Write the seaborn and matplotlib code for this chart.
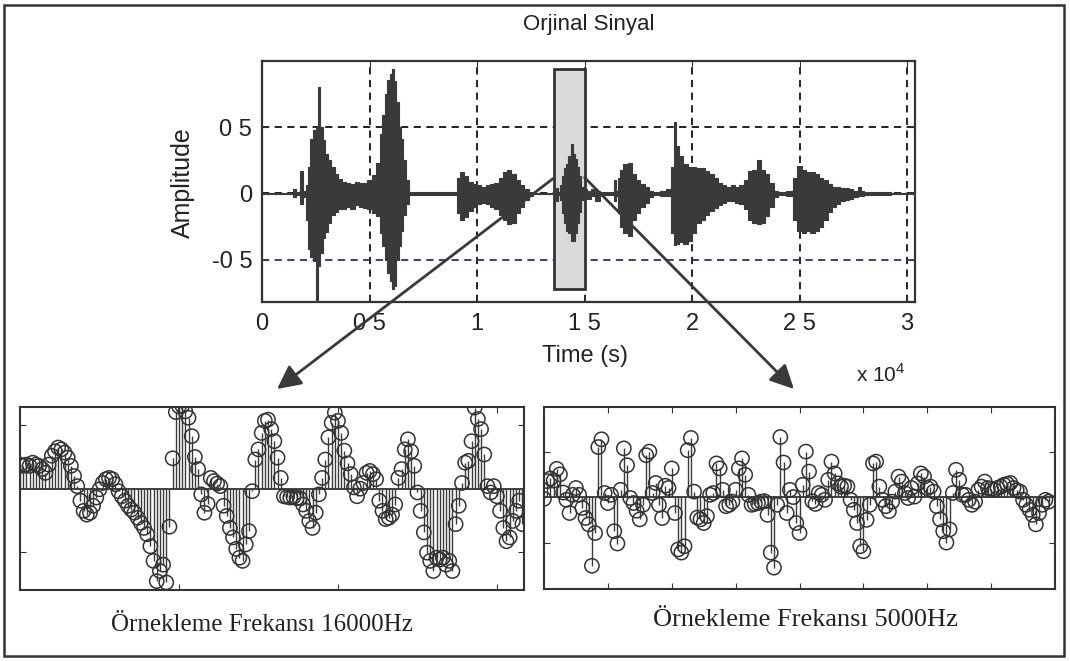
import matplotlib
matplotlib.use("Agg")
import matplotlib.pyplot as plt
import seaborn as sns
from matplotlib.patches import Rectangle, ConnectionPatch

# Envelope of the original speech signal (time axis in units of 1e4 samples)
ENV_TIME = [0.00, 0.14, 0.15, 0.17, 0.185, 0.195, 0.21, 0.22, 0.23, 0.245,
            0.255, 0.265, 0.275, 0.29, 0.30, 0.315, 0.33, 0.345, 0.36, 0.38,
            0.40, 0.42, 0.44, 0.46, 0.48, 0.50, 0.52, 0.54, 0.555, 0.565,
            0.575, 0.59, 0.60, 0.61, 0.62, 0.63, 0.64, 0.65, 0.66, 0.675,
            0.69, 0.90, 0.91, 0.93, 0.95, 0.97, 0.99, 1.01, 1.03, 1.05,
            1.07, 1.09, 1.11, 1.13, 1.15, 1.17, 1.19, 1.21, 1.23, 1.25,
            1.27, 1.36, 1.37, 1.38, 1.39, 1.40, 1.41, 1.42, 1.43, 1.44,
            1.45, 1.46, 1.47, 1.48, 1.49, 1.50, 1.52, 1.54, 1.56, 1.58,
            1.63, 1.64, 1.65, 1.66, 1.67, 1.69, 1.71, 1.73, 1.75, 1.77,
            1.79, 1.81, 1.83, 1.87, 1.89, 1.91, 1.92, 1.93, 1.95, 1.97,
            1.99, 2.01, 2.03, 2.05, 2.07, 2.09, 2.11, 2.13, 2.15, 2.17,
            2.19, 2.21, 2.23, 2.25, 2.27, 2.29, 2.31, 2.33, 2.35, 2.37,
            2.39, 2.41, 2.46, 2.48, 2.50, 2.52, 2.54, 2.56, 2.58, 2.60,
            2.62, 2.64, 2.66, 2.68, 2.70, 2.72, 2.74, 2.76, 2.78, 2.79,
            2.81, 3.04]
ENV_UPPER = [0.005, 0.005, 0.03, 0.01, 0.17, 0.02, 0.06, 0.20, 0.41, 0.48,
             0.50, 0.80, 0.50, 0.40, 0.30, 0.25, 0.20, 0.15, 0.11, 0.09,
             0.08, 0.07, 0.09, 0.08, 0.08, 0.10, 0.14, 0.23, 0.45, 0.59,
             0.75, 0.86, 0.90, 0.94, 0.85, 0.69, 0.50, 0.41, 0.25, 0.10,
             0.01, 0.01, 0.12, 0.16, 0.13, 0.09, 0.07, 0.06, 0.05, 0.06,
             0.07, 0.08, 0.12, 0.16, 0.18, 0.15, 0.10, 0.06, 0.03, 0.01,
             0.005, 0.005, 0.04, 0.01, 0.06, 0.13, 0.19, 0.22, 0.28, 0.37,
             0.30, 0.26, 0.20, 0.13, 0.05, 0.03, 0.02, 0.03, 0.02, 0.01,
             0.01, 0.10, 0.02, 0.12, 0.18, 0.22, 0.23, 0.15, 0.10, 0.07,
             0.05, 0.02, 0.01, 0.02, 0.03, 0.20, 0.54, 0.36, 0.28, 0.22,
             0.20, 0.20, 0.19, 0.19, 0.17, 0.15, 0.12, 0.08, 0.06, 0.05,
             0.06, 0.05, 0.06, 0.10, 0.17, 0.18, 0.25, 0.18, 0.15, 0.08,
             0.02, 0.01, 0.02, 0.12, 0.21, 0.18, 0.16, 0.16, 0.15, 0.12,
             0.10, 0.07, 0.05, 0.05, 0.04, 0.04, 0.03, 0.02, 0.05, 0.02,
             0.01, 0.005]
ENV_LOWER = [-0.005, -0.005, -0.03, -0.01, -0.08, -0.03, -0.20, -0.42, -0.48, -0.51,
             -0.82, -0.55, -0.45, -0.34, -0.29, -0.22, -0.16, -0.14, -0.12, -0.12,
             -0.10, -0.12, -0.09, -0.10, -0.11, -0.12, -0.15, -0.17, -0.30, -0.40,
             -0.50, -0.60, -0.66, -0.72, -0.70, -0.50, -0.40, -0.28, -0.16, -0.08,
             -0.01, -0.01, -0.15, -0.20, -0.18, -0.13, -0.10, -0.08, -0.07, -0.08,
             -0.10, -0.12, -0.16, -0.20, -0.23, -0.22, -0.15, -0.10, -0.05, -0.02,
             -0.005, -0.005, -0.06, -0.01, -0.05, -0.15, -0.22, -0.28, -0.30, -0.36,
             -0.36, -0.30, -0.22, -0.14, -0.05, -0.03, -0.04, -0.02, -0.06, -0.01,
             -0.01, -0.06, -0.02, -0.15, -0.25, -0.30, -0.32, -0.20, -0.15, -0.10,
             -0.07, -0.03, -0.01, -0.02, -0.02, -0.30, -0.39, -0.38, -0.37, -0.38,
             -0.36, -0.30, -0.22, -0.20, -0.16, -0.13, -0.11, -0.09, -0.07, -0.06,
             -0.06, -0.07, -0.08, -0.12, -0.20, -0.22, -0.23, -0.22, -0.17, -0.10,
             -0.03, -0.01, -0.02, -0.20, -0.28, -0.30, -0.28, -0.30, -0.28, -0.25,
             -0.20, -0.14, -0.10, -0.08, -0.06, -0.05, -0.04, -0.03, -0.02, -0.02,
             -0.01, -0.005]

TIME_TICKS = [0, 0.5, 1, 1.5, 2, 2.5, 3]
TIME_TICK_LABELS = ["0", "0 5", "1", "1 5", "2", "2 5", "3"]
AMP_TICKS = [-0.5, 0, 0.5]
AMP_TICK_LABELS = ["-0 5", "0", "0 5"]

# window of the signal that is enlarged below
WINDOW_START, WINDOW_END = 1.36, 1.50
WINDOW_LOW, WINDOW_HIGH = -0.72, 0.94

# samples of the window (16000 Hz and 5000 Hz)
SAMPLES_16K = [
    0.38, 0.36, 0.38, 0.36, 0.41, 0.38, 0.36, 0.31, 0.25, 0.38,
    0.52, 0.59, 0.65, 0.62, 0.57, 0.49, 0.36, 0.20, 0.04, -0.19,
    -0.35, -0.41, -0.38, -0.27, -0.14, -0.01, 0.09, 0.15, 0.17, 0.15,
    0.07, -0.04, -0.12, -0.19, -0.27, -0.33, -0.38, -0.46, -0.54, -0.62,
    -0.72, -0.91, -1.14, -1.46, -1.30, -1.20, -1.48, -0.60, 0.48, 1.21,
    1.30, 1.31, 1.22, 1.12, 0.83, 0.50, 0.31, -0.09, -0.38, -0.24,
    0.17, 0.12, 0.08, 0.04, -0.27, -0.43, -0.62, -0.77, -0.95, -1.09,
    -1.14, -0.88, -0.67, -0.04, 0.46, 0.62, 0.88, 1.07, 1.09, 0.94,
    0.75, 0.49, 0.17, -0.12, -0.13, -0.14, -0.13, -0.15, -0.15, -0.25,
    -0.35, -0.51, -0.62, -0.38, -0.09, 0.17, 0.46, 0.81, 1.04, 1.20,
    1.07, 0.88, 0.60, 0.40, 0.23, 0.02, -0.12, 0.00, 0.09, 0.25,
    0.28, 0.23, 0.15, -0.19, -0.35, -0.48, -0.46, -0.41, -0.25, 0.17,
    0.31, 0.62, 0.78, 0.59, 0.36, -0.06, -0.35, -0.69, -1.01, -1.14,
    -1.30, -1.09, -1.12, -1.09, -1.20, -1.14, -1.30, -0.56, -0.27, 0.09,
    0.41, 0.44, 0.75, 1.28, 1.10, 0.94, 0.54, 0.04, -0.06, 0.04,
    -0.12, -0.35, -0.62, -0.83, -0.77, -0.51, -0.35, -0.19, -0.56,
]
SAMPLES_5K = [
    -0.04, 0.35, 0.41, 0.36, 0.62, 0.50, 0.10, -0.06, -0.35, 0.05,
    0.20, 0.05, -0.24, -0.46, -0.60, -1.51, -0.79, 1.10, 1.27, 0.09,
    -0.13, 0.05, -0.75, -1.02, 0.16, 1.07, 0.70, -0.02, -0.13, -0.30,
    -0.49, -0.17, 0.92, 1.00, 0.09, 0.31, -0.17, -0.46, 0.25, 0.20,
    0.63, -0.35, -1.15, -1.22, -1.08, 1.03, 1.30, 0.12, -0.45, -0.49,
    -0.57, -0.42, 0.05, 0.09, 0.74, 0.63, 0.16, -0.20, -0.17, -0.10,
    0.16, 0.63, 0.85, 0.49, 0.05, -0.17, -0.15, -0.13, -0.10, -0.09,
    -0.39, -1.22, -1.55, -0.17, 1.32, 0.76, -0.35, 0.16, 0.00, -0.57,
    -0.79, 0.27, 1.00, 0.56, -0.09, -0.15, 0.09, 0.05, -0.06, 0.38,
    0.78, 0.52, 0.30, 0.23, 0.25, 0.23, -0.06, -0.28, -0.57, -1.08,
    -1.19, -0.50, -0.17, 0.74, 0.78, 0.23, -0.06, -0.20, -0.31, -0.10,
    0.12, 0.45, 0.34, 0.09, -0.02, 0.20, 0.01, 0.30, 0.52, 0.45,
    0.20, 0.23, 0.12, -0.20, -0.49, -0.75, -1.00, -0.71, 0.09, 0.60,
    0.38, 0.05, 0.05, -0.06, -0.17, -0.10, 0.16, 0.23, 0.34, 0.20,
    0.18, 0.16, 0.20, 0.23, 0.27, 0.29, 0.31, 0.20, 0.15, 0.12,
    -0.06, -0.17, -0.28, -0.39, -0.60, -0.35, -0.17, -0.06, -0.10,
]

CAPTION_16K = "Örnekleme Frekansı 16000Hz"
CAPTION_5K = "Örnekleme Frekansı 5000Hz"

INK = "#333333"

sns.set_style("ticks")
plt.rcParams["font.family"] = ["Liberation Sans", "DejaVu Sans"]

fig = plt.figure(figsize=(10.7, 6.61), dpi=100)
ax_top = fig.add_axes([0.2449, 0.5431, 0.6103, 0.3646])
ax_l = fig.add_axes([0.0187, 0.1074, 0.4710, 0.2769])
ax_r = fig.add_axes([0.5084, 0.1089, 0.4776, 0.2754])

# --- original signal ---
ax_top.add_patch(Rectangle((WINDOW_START, WINDOW_LOW), WINDOW_END - WINDOW_START,
                           WINDOW_HIGH - WINDOW_LOW, facecolor="#dadada",
                           edgecolor=INK, lw=2, zorder=1))
ax_top.fill_between(ENV_TIME, ENV_LOWER, ENV_UPPER, step="mid", color="#3a3a3a",
                    lw=0.8, zorder=3)
ax_top.set_xlim(0, 3.037)
ax_top.set_ylim(-0.82, 1.0)
ax_top.set_xticks(TIME_TICKS, TIME_TICK_LABELS)
ax_top.set_yticks(AMP_TICKS, AMP_TICK_LABELS)
ax_top.tick_params(direction="in", length=4, top=True, right=True, labelsize=17,
                   color=INK, labelcolor="#222222")
ax_top.tick_params(axis="x", pad=8)
ax_top.tick_params(axis="y", pad=7)
ax_top.grid(True, ls=(0, (4, 3)), color="#111111", lw=1.3, zorder=0)
ax_top.get_ygridlines()[0].set_color("#2a2a9a")
ax_top.set_axisbelow(True)
for s in ax_top.spines.values():
    s.set_linewidth(1.6)
    s.set_color(INK)
ax_top.text(0.5, 1.15, "Orjinal Sinyal", transform=ax_top.transAxes,
            ha="center", va="center", fontsize=16, color="#222222")
ax_top.set_xlabel("Time (s)", fontsize=17, color="#222222")
ax_top.xaxis.set_label_coords(0.495, -0.18)
ax_top.set_ylabel("Amplitude", fontsize=18, color="#222222")
ax_top.yaxis.set_label_coords(-0.103, 0.494)
ax_top.text(0.948, -0.30, r"x 10$^{\mathregular{4}}$", transform=ax_top.transAxes,
            ha="center", va="center", fontsize=15, color="#222222")

# --- sampled windows as stem plots ---
def stem_panel(ax, values, xmax, xticks, ylim, yticks, caption, size):
    n = list(range(len(values)))
    ax.axhline(0, color=INK, lw=1.3, zorder=2)
    ax.vlines(n, 0, values, color="#3a3a3a", lw=1.0, zorder=2)
    sns.scatterplot(x=n, y=values, ax=ax, marker="o", s=105, facecolor="none",
                    edgecolor=INK, linewidth=1.1, zorder=3)
    ax.set_xlim(0, xmax)
    ax.set_ylim(*ylim)
    ax.set_xticks(xticks)
    ax.set_yticks(yticks)
    ax.tick_params(direction="in", length=4, top=True, right=True,
                   labelbottom=False, labelleft=False, color=INK)
    for s in ax.spines.values():
        s.set_linewidth(1.5)
        s.set_color(INK)
    ax.set_xlabel(caption, fontsize=size, family="Liberation Serif", color="#222222")
    ax.xaxis.label.set_va("center")


stem_panel(ax_l, SAMPLES_16K, 158.5, [50, 100, 150], (-1.6, 1.29), [-1, 1],
           CAPTION_16K, 18)
ax_l.xaxis.set_label_coords(0.48, -0.19)
stem_panel(ax_r, SAMPLES_5K, 160, [20, 40, 60, 80, 100, 120, 140], (-2.02, 1.98),
           [-1, 1], CAPTION_5K, 19)
ax_r.xaxis.set_label_coords(0.511, -0.17)

# --- arrows from the window to the enlarged plots ---
for x_start, target_ax, target in [(WINDOW_START, ax_l, (0.51, 1.098)),
                                   (WINDOW_END, ax_r, (0.489, 1.099))]:
    con = ConnectionPatch(xyA=(x_start, 0.12), coordsA=ax_top.transData,
                          xyB=target, coordsB=target_ax.transAxes,
                          arrowstyle="-|>,head_length=0.9,head_width=0.45",
                          mutation_scale=16, lw=2, color="#3a3a3a",
                          shrinkA=0, shrinkB=0)
    fig.add_artist(con)

# outer frame
fig.add_artist(Rectangle((4 / 1070, 5 / 661), 1060 / 1070, 651 / 661,
                         transform=fig.transFigure, fill=False, lw=1.8, ec=INK))

fig.savefig("out.png", dpi=100)
